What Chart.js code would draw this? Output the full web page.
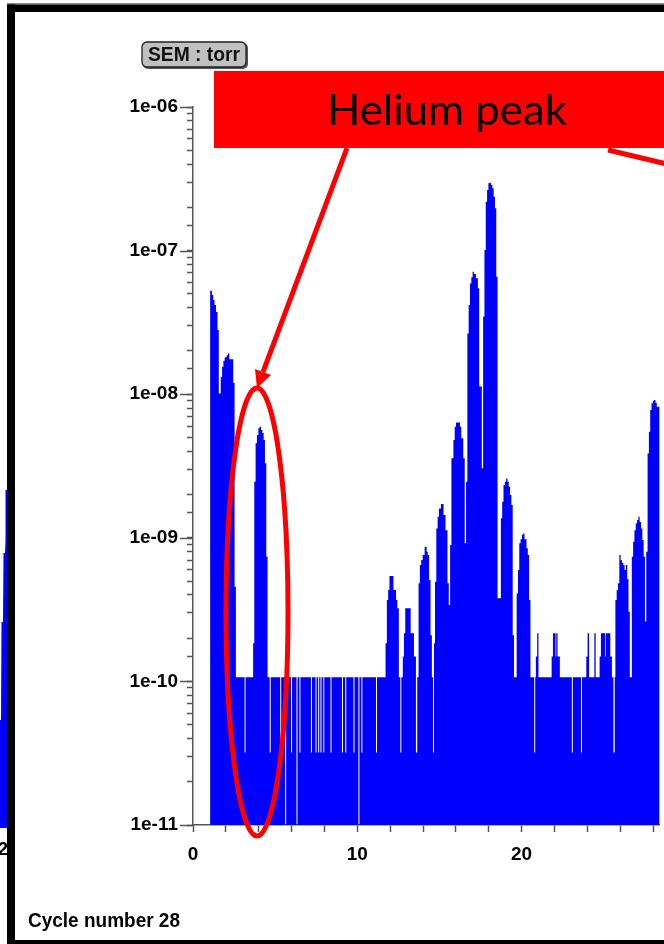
<!DOCTYPE html>
<html><head><meta charset="utf-8">
<script src="https://cdn.jsdelivr.net/npm/chart.js@4/dist/chart.umd.min.js"></script>
<style>
html,body{margin:0;padding:0;background:#fff;overflow:hidden;width:664px;height:944px;}
#wrap{position:absolute;left:0;top:0;width:664px;height:944px;}
#ov{position:absolute;left:0;top:0;width:664px;height:944px;pointer-events:none;}
</style></head><body>
<div id="wrap"><canvas id="c"></canvas></div>
<svg id="ov" width="664" height="944" xmlns="http://www.w3.org/2000/svg">
  <!-- neighbouring window fragment at far left -->
  <polygon points="5.5,490 7.5,490 7.5,828 0,828 0,720 1,720 1.5,622 3,622 3.5,553 5,553 5.5,540" fill="#0000ff"/>
  <text x="-2" y="855" font-family="Liberation Sans, Arial, sans-serif" font-weight="bold" font-size="18" fill="#000">2</text>
  <!-- frame -->
  <rect x="7" y="3" width="660" height="1.5" fill="#8a8a8a"/>
  <rect x="7" y="4.5" width="660" height="7.5" fill="#000"/>
  <rect x="7" y="4.5" width="8" height="940" fill="#000"/>
  <rect x="7" y="940" width="660" height="4" fill="#000"/>
  <!-- SEM label -->
  <rect x="143" y="43" width="105" height="26" rx="5" ry="5" fill="#555"/>
  <rect x="142" y="42" width="104" height="25" rx="5" ry="5" fill="#c0c0c0" stroke="#222" stroke-width="1.3"/>
  <text x="194" y="61" text-anchor="middle" font-family="Liberation Sans, Arial, sans-serif" font-weight="bold" font-size="20" textLength="92" lengthAdjust="spacingAndGlyphs" fill="#111">SEM : torr</text>
  <!-- annotation -->
  <rect x="214" y="71" width="470" height="77" fill="#ff0000"/>
  <text x="447" y="125" text-anchor="middle" font-family="Lato, 'Open Sans', sans-serif" font-size="42" textLength="240" lengthAdjust="spacingAndGlyphs" fill="#000">Helium peak</text>
  <line x1="347" y1="148" x2="263" y2="372" stroke="#ff0000" stroke-width="5"/>
  <polygon points="257,388 255,369 271,375" fill="#ff0000"/>
  <line x1="608" y1="150" x2="700" y2="172" stroke="#ff0000" stroke-width="5"/>
  <ellipse cx="257" cy="612" rx="31" ry="224" fill="none" stroke="#ff0000" stroke-width="5"/>
  <text x="28" y="927" font-family="Liberation Sans, Arial, sans-serif" font-weight="bold" font-size="21" textLength="152" lengthAdjust="spacingAndGlyphs" fill="#000">Cycle number 28</text>
</svg>
<script>
// ---- data: [mass (amu), SEM pressure (torr)]; each value holds until the next mass ----
const hydrogenPeaks = [[1.04,5.26e-8],[1.15,4.9e-8],[1.23,4.53e-8],[1.31,4.18e-8],[1.40,3.73e-8],[1.49,2.8e-8],[1.57,1.01e-8],[1.69,1.32e-8],[1.77,1.55e-8],[1.85,1.71e-8],[1.93,1.81e-8],[2.05,1.87e-8],[2.13,1.92e-8],[2.21,1.75e-8],[2.45,1.2e-8],[2.53,4.57e-10],[2.61,1.07e-10],[3.14,3.2e-11],[3.20,1.07e-10]];
const heliumPeak = [[3.66,1.84e-10],[3.73,2.46e-9],[3.81,4.55e-9],[3.89,5.2e-9],[3.98,5.79e-9],[4.05,5.94e-9],[4.14,5.63e-9],[4.22,5.37e-9],[4.30,4.8e-9],[4.38,3.3e-9],[4.46,7.4e-10],[4.54,1.07e-10]];
const lowBaseline = [[4.67,3.2e-11],[4.73,1.07e-10],[5.31,3.2e-11],[5.37,1.07e-10],[5.61,1e-11],[5.67,1.07e-10],[5.97,3.2e-11],[6.03,1.07e-10],[6.30,1e-11],[6.36,1.07e-10],[6.48,3.2e-11],[6.54,1.07e-10],[7.18,3.2e-11],[7.24,1.07e-10],[7.46,3.2e-11],[7.52,1.07e-10],[7.62,3.2e-11],[7.68,1.07e-10],[7.76,3.2e-11],[7.82,1.07e-10],[7.93,3.2e-11],[7.99,1.07e-10],[8.37,3.2e-11],[8.43,1.07e-10],[9.07,3.2e-11],[9.13,1.07e-10],[9.27,3.2e-11],[9.33,1.07e-10],[9.77,3.2e-11],[9.83,1.07e-10],[10.07,1e-11],[10.13,1.07e-10],[10.25,3.2e-11],[10.31,1.07e-10],[11.14,3.2e-11],[11.20,1.07e-10]];
const carbonGroup = [[11.72,1.84e-10],[11.80,3.69e-10],[11.88,4.33e-10],[11.96,5.42e-10],[12.20,4.33e-10],[12.36,3.69e-10],[12.44,3.23e-10],[12.53,1.07e-10],[12.62,3.2e-11],[12.68,1.07e-10],[12.77,1.49e-10],[12.84,2.16e-10],[12.92,3.23e-10],[13.25,2.16e-10],[13.45,1.49e-10],[13.57,3.2e-11],[13.65,1.07e-10],[13.73,4.82e-10],[13.81,6.47e-10],[13.89,7.0e-10],[13.98,7.59e-10],[14.10,8.67e-10],[14.22,8.0e-10],[14.29,7.59e-10],[14.37,5.08e-10],[14.46,2.1e-10],[14.54,1.07e-10],[14.61,3.2e-11]];
const waterGroup = [[14.67,1.84e-10],[14.73,4.95e-10],[14.81,1.16e-9],[14.89,1.40e-9],[14.97,1.60e-9],[15.09,1.72e-9],[15.25,1.44e-9],[15.37,1.13e-9],[15.49,4.82e-10],[15.57,3.4e-10],[15.65,8.9e-10],[15.73,3.58e-9],[15.85,4.8e-9],[15.93,5.94e-9],[16.01,6.34e-9],[16.25,5.94e-9],[16.33,4.93e-9],[16.45,3.58e-9],[16.54,9.16e-10],[16.62,2.46e-9],[16.70,2.65e-8],[16.78,4.18e-8],[16.86,5.91e-8],[16.94,6.51e-8],[17.02,7.13e-8],[17.10,6.87e-8],[17.22,6.41e-8],[17.34,5.46e-8],[17.42,1.13e-8],[17.58,3.05e-9],[17.66,3.47e-8],[17.74,1.01e-7],[17.82,2.19e-7],[17.90,2.64e-7],[17.98,2.94e-7],[18.06,2.97e-7],[18.14,2.86e-7],[18.22,2.72e-7],[18.30,2.37e-7],[18.38,1.97e-7],[18.46,6.58e-8],[18.54,3.79e-10],[18.74,1.37e-9],[18.82,1.78e-9],[18.90,2.33e-9],[18.98,2.46e-9],[19.06,2.59e-9],[19.14,2.46e-9],[19.22,2.27e-9],[19.30,1.99e-9],[19.38,1.69e-9],[19.46,2.1e-10],[19.54,1.07e-10],[19.70,4.1e-10],[19.78,5.97e-10],[19.86,9.16e-10],[19.94,9.77e-10],[20.02,1.05e-9],[20.10,1.07e-9],[20.18,9.77e-10],[20.30,8.45e-10],[20.38,7.59e-10],[20.46,3.69e-10],[20.54,1.07e-10]];
const midBaseline = [[20.77,3.2e-11],[20.83,1.07e-10],[20.87,1.49e-10],[20.95,2.16e-10],[21.03,1.07e-10],[21.83,1.49e-10],[21.91,2.16e-10],[22.07,1.49e-10],[22.11,2.16e-10],[22.19,1.49e-10],[22.33,1.07e-10],[23.06,3.2e-11],[23.12,1.07e-10],[23.62,3.2e-11],[23.68,1.07e-10],[23.94,1.49e-10],[24.02,2.16e-10],[24.11,1.07e-10],[24.43,2.16e-10],[24.51,1.07e-10],[24.75,1.49e-10],[24.83,2.16e-10],[25.08,1.49e-10],[25.12,2.16e-10],[25.40,1.49e-10],[25.50,1.07e-10],[25.59,3.2e-11],[25.67,1.07e-10]];
const airGroup = [[25.71,3.69e-10],[25.79,4.33e-10],[25.87,4.82e-10],[25.95,7.59e-10],[26.03,7.0e-10],[26.11,6.71e-10],[26.19,6.47e-10],[26.27,5.97e-10],[26.35,6.47e-10],[26.43,5.14e-10],[26.51,3.06e-10],[26.59,1.07e-10],[26.71,7.38e-10],[26.79,9.39e-10],[26.87,1.13e-9],[26.95,1.26e-9],[27.03,1.33e-9],[27.11,1.40e-9],[27.19,1.29e-9],[27.27,1.16e-9],[27.35,9.65e-10],[27.43,7.38e-10],[27.51,2.61e-10],[27.59,8.0e-10],[27.67,3.87e-9],[27.75,5.48e-9],[27.83,7.77e-9],[27.91,8.65e-9],[27.99,9.02e-9],[28.07,9.12e-9],[28.15,8.73e-9],[28.23,8.19e-9],[28.45,8.19e-9]];
const xTickValues = [0, 10, 20];
const xTickLabels = ['0', '10', '20'];
const yTickLabels = ['1e-11', '1e-10', '1e-09', '1e-08', '1e-07', '1e-06'];

const scan = [].concat(hydrogenPeaks, heliumPeak, lowBaseline, carbonGroup, waterGroup, midBaseline, airGroup);
const FONT = "'Liberation Sans', Arial, sans-serif";
const AXIS = '#555';

function decadeIndex(v) {
  const e = Math.log10(v);
  return Math.abs(e - Math.round(e)) < 1e-6 ? Math.round(e) + 11 : -1;
}

const majorTicks = {
  id: 'majorTicks',
  afterDraw(chart) {
    const y = chart.scales.y, ctx = chart.ctx;
    ctx.save();
    ctx.strokeStyle = AXIS; ctx.lineWidth = 1.5;
    y.ticks.forEach(t => {
      if (decadeIndex(t.value) >= 0) {
        const py = Math.round(y.getPixelForValue(t.value)) + 0.5;
        ctx.beginPath(); ctx.moveTo(y.right - 13, py); ctx.lineTo(y.right, py); ctx.stroke();
      }
    });
    ctx.restore();
  }
};

new Chart(document.getElementById('c'), {
  type: 'line',
  data: {
    datasets: [{
      data: scan,
      stepped: 'before',
      fill: 'start',
      backgroundColor: '#0000ff',
      borderColor: 'rgba(0,0,0,0)',
      borderWidth: 0,
      pointRadius: 0,
      tension: 0
    }]
  },
  options: {
    responsive: true,
    maintainAspectRatio: false,
    animation: false,
    events: [],
    layout: { padding: { top: 107, right: 0, bottom: 79, left: 0 } },
    plugins: { legend: { display: false }, tooltip: { enabled: false } },
    scales: {
      x: {
        type: 'linear', min: 0, max: 28.4,
        afterFit(s) { s.height = 40; },
        border: { display: true, color: AXIS, width: 1.5 },
        grid: { display: true, drawOnChartArea: false, drawTicks: true, tickLength: 7, color: AXIS, tickWidth: 1.5 },
        ticks: {
          stepSize: 2, includeBounds: false, autoSkip: false, maxRotation: 0, padding: 11,
          color: '#000', font: { family: FONT, weight: 'bold', size: 19 },
          callback: (v) => { const i = xTickValues.indexOf(v); return i >= 0 ? xTickLabels[i] : ''; }
        }
      },
      y: {
        type: 'logarithmic', min: 1e-11, max: 1e-6,
        afterFit(s) { s.width = 193; },
        border: { display: true, color: AXIS, width: 1.5 },
        grid: { display: true, drawOnChartArea: false, drawTicks: true, tickLength: 6, color: AXIS, tickWidth: 1.5 },
        ticks: {
          autoSkip: false, padding: 9,
          color: '#000', font: { family: FONT, weight: 'bold', size: 19 },
          callback: (v) => { const i = decadeIndex(v); return i >= 0 ? yTickLabels[i] : ''; }
        }
      }
    }
  },
  plugins: [majorTicks]
});
</script>
</body></html>
